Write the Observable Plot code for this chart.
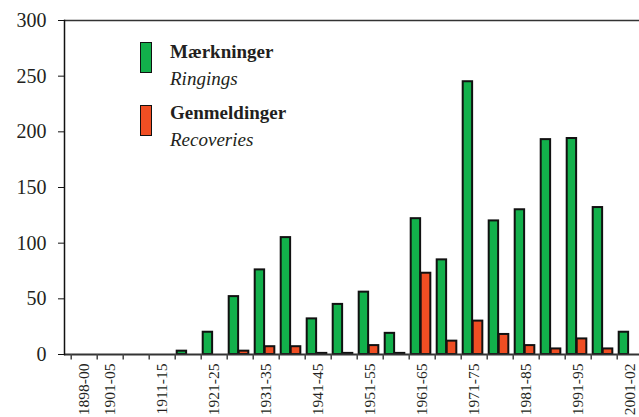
<!DOCTYPE html>
<html>
<head>
<meta charset="utf-8">
<script src="https://cdn.jsdelivr.net/npm/d3@7"></script>
<script src="https://cdn.jsdelivr.net/npm/@observablehq/plot@0.6"></script>
<style>
  html, body { margin: 0; padding: 0; background: white; overflow: hidden; }
  #wrap { position: relative; width: 639px; height: 417px; }
  #wrap svg text { font-family: "Liberation Serif", serif; }
  .sw { position: absolute; width: 10px; height: 29px; border: 1.6px solid #111; }
  .lt { position: absolute; font-family: "Liberation Serif", serif; font-size: 19px; line-height: 19px; color: #231f20; white-space: nowrap; }
  .b { font-weight: bold; }
  .i { font-style: italic; }
</style>
</head>
<body>
<div id="wrap"></div>
<script>
const periods = ["1898-00","1901-05","1906-10","1911-15","1916-20","1921-25","1926-30","1931-35","1936-40","1941-45","1946-50","1951-55","1956-60","1961-65","1966-70","1971-75","1976-80","1981-85","1986-90","1991-95","1996-00","2001-02"];
const ringings = [0,0,0,0,3,20,52,76,105,32,45,56,19,122,85,245,120,130,193,194,132,20];
const recoveries = [0,0,0,0,0,0,3,7,7,1,1,8,1,73,12,30,18,8,5,14,5,0];
const labelPeriods = ["1898-00","1901-05","1911-15","1921-25","1931-35","1941-45","1951-55","1961-65","1971-75","1981-85","1991-95","2001-02"];
const yTicks = [0,50,100,150,200,250,300];
const seriesNames = ["Mærkninger","Genmeldinger"];
const seriesSub = ["Ringings","Recoveries"];
const colors = ["#12b04b","#f04e23"];

const serif = "'Liberation Serif', serif";
const xRange = [64.3, 649];
const step = (xRange[1] - xRange[0]) / periods.length;
const data = periods.map((p, i) => ({period: p, ring: ringings[i], rec: recoveries[i]}));

const chart = Plot.plot({
  width: 639,
  height: 417,
  marginLeft: 64,
  marginRight: 0,
  marginTop: 20,
  marginBottom: 63,
  style: {fontFamily: serif, color: "#231f20", background: "white"},
  x: {type: "band", domain: periods, range: xRange, padding: 0},
  y: {domain: [0, 300]},
  marks: [
    Plot.barY(data.filter(d => d.ring > 0), {x: "period", y: "ring", fill: colors[0], stroke: "#111", strokeWidth: 2, insetLeft: 1.7, insetRight: step - 11.7}),
    Plot.barY(data.filter(d => d.rec > 0), {x: "period", y: "rec", fill: colors[1], stroke: "#111", strokeWidth: 2, insetLeft: 11.7, insetRight: step - 21.9}),
    Plot.ruleY([0], {stroke: "#333", strokeWidth: 2}),
    Plot.ruleY([300], {stroke: "#333", strokeWidth: 1.5}),
    Plot.frame({anchor: "left", stroke: "#111", strokeWidth: 1.5}),
    Plot.axisY({ticks: yTicks, tickSize: 6, tickPadding: 12, fontSize: 20, fontFamily: serif, tickFormat: d => d, label: null, stroke: "#111"}),
    Plot.axisX({tickSize: 5.5, tickFormat: () => "", dx: -step / 2, label: null, stroke: "#444", strokeWidth: 1.5}),
    Plot.axisX(labelPeriods, {tickSize: 0, tickRotate: -90, tickPadding: 9, fontSize: 15.5, fontFamily: serif, label: null})
  ]
});
const wrap = document.getElementById("wrap");
wrap.appendChild(chart);

// Legend (HTML overlay)
const legendRows = [
  {swTop: 42, t1: 42.4, t2: 69},
  {swTop: 104.5, t1: 103.4, t2: 129.5}
];
seriesNames.forEach((name, i) => {
  const r = legendRows[i];
  const sw = document.createElement("div");
  sw.className = "sw";
  sw.style.left = "140px";
  sw.style.top = r.swTop + "px";
  sw.style.background = colors[i];
  wrap.appendChild(sw);
  const a = document.createElement("div");
  a.className = "lt b";
  a.style.left = "170px";
  a.style.top = r.t1 + "px";
  a.textContent = name;
  wrap.appendChild(a);
  const b = document.createElement("div");
  b.className = "lt i";
  b.style.left = "170px";
  b.style.top = r.t2 + "px";
  b.textContent = seriesSub[i];
  wrap.appendChild(b);
});
</script>
</body>
</html>
